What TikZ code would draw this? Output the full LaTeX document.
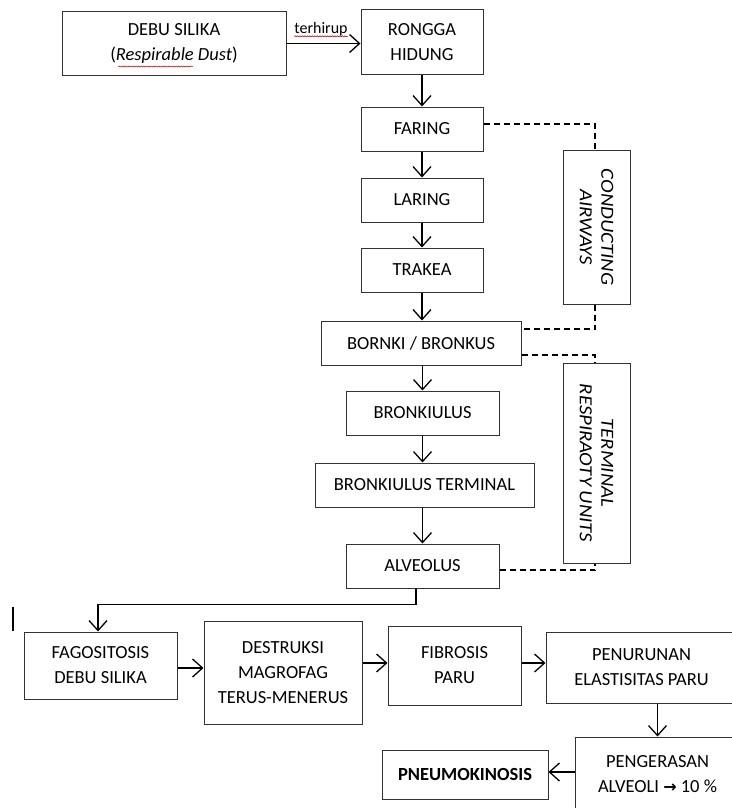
\documentclass[tikz,border=0pt]{standalone}
\usepackage{fontspec}
\setmainfont{Carlito}
\newfontfamily\djv{DejaVu Sans}
\usetikzlibrary{arrows.meta,decorations.pathmorphing,calc}
\begin{document}
\begin{tikzpicture}[x=1pt,y=-1pt,
  box/.style={draw=black!80, line width=1pt, inner sep=0pt, align=center,
    font=\fontsize{18.5}{25}\selectfont, text=black},
  rtxt/.style={rotate=-90, inner sep=0pt, align=center,
    font=\fontsize{18.5}{21.5}\selectfont\itshape, text=black},
  arr/.style={line width=1.6pt, arrows={-Straight Barb[length=10pt,width=18pt,line width=1.3pt]}},
  dsh/.style={line width=1.4pt, dash pattern=on 6pt off 4pt},
  squig/.style={draw=red!75!black, line width=0.5pt, decorate,
    decoration={snake, amplitude=0.6pt, segment length=2.5pt}}]
\useasboundingbox (0,0) rectangle (731,808);

% boxes
\node[box, minimum width=224, minimum height=63] (debu) at (174,43.5)
  {DEBU SILIKA\\(\textit{Respirable} \textit{Dust})};
\node[box, minimum width=122, minimum height=64] (rongga) at (422,42) {RONGGA\\HIDUNG};
\node[box, minimum width=122, minimum height=44] (faring) at (422,129) {FARING};
\node[box, minimum width=122, minimum height=44] (laring) at (422,200) {LARING};
\node[box, minimum width=122, minimum height=44] (trakea) at (422,270) {TRAKEA};
\node[box, minimum width=200, minimum height=44] (bornki) at (421,343) {BORNKI / BRONKUS};
\node[box, minimum width=153, minimum height=44] (bronk) at (422.5,413) {BRONKIULUS};
\node[box, minimum width=219, minimum height=44] (brterm) at (424.5,485) {BRONKIULUS TERMINAL};
\node[box, minimum width=153, minimum height=44] (alveolus) at (422.5,566) {ALVEOLUS};

\node[box, minimum width=67, minimum height=154] (cond) at (596.5,227) {};
\node[rtxt] (condtxt) at (cond.center) {\scalebox{1.12}[1]{CONDUCTING}\\\scalebox{1.12}[1]{AIRWAYS}};
\node[box, minimum width=67, minimum height=200] (term) at (596.5,463) {};
\node[rtxt] (termtxt) at (term.center) {\scalebox{1.12}[1]{TERMINAL}\\\scalebox{1.12}[1]{RESPIRAOTY UNITS}};

\node[box, minimum width=153, minimum height=67] (fago) at (100.5,665.5) {FAGOSITOSIS\\DEBU SILIKA};
\node[box, minimum width=158, minimum height=103] (destruksi) at (283,672.5) {DESTRUKSI\\MAGROFAG\\TERUS-MENERUS};
\node[box, minimum width=133, minimum height=79] (fibrosis) at (454.5,665.5) {FIBROSIS\\PARU};
\node[box, minimum width=191, minimum height=71] (penurunan) at (641.5,667.5) {PENURUNAN\\ELASTISITAS PARU};
\node[box, minimum width=165, minimum height=74] (pengerasan) at (657.5,774) {PENGERASAN\\ALVEOLI {\djv\bfseries\fontsize{16}{25}\selectfont →} 10~\%};
\node[box, minimum width=166, minimum height=49, font=\fontsize{18.5}{25}\selectfont\bfseries] (pneumo) at (465,774.5) {PNEUMOKINOSIS};

% label
\node[inner sep=0pt, anchor=base, font=\fontsize{16}{18}\selectfont, text=black] (terh) at (321,33.3) {terhirup};
\draw[squig] ([yshift=-3pt]terh.base west) -- ([yshift=-3pt]terh.base east);
\draw[squig] (118,66.5) -- (193,66.5);

% stray mark
\draw[line width=2pt] (13,607) -- (13,631);

% arrows
\draw[arr] (debu.east) -- (debu.east -| rongga.west);
\draw[arr] (rongga.south) -- (rongga.south |- faring.north);
\draw[arr] (faring.south) -- (faring.south |- laring.north);
\draw[arr] (laring.south) -- (laring.south |- trakea.north);
\draw[arr] (trakea.south) -- (trakea.south |- bornki.north);
\draw[arr] (bronk.north |- bornki.south) -- (bronk.north);
\draw[arr] (bronk.south) -- (bronk.south |- brterm.north);
\draw[arr] (alveolus.north |- brterm.south) -- (alveolus.north);
\draw[arr] ($(alveolus.south)+(-6.5,0)$) -- ++(0,16) -| ($(fago.north)+(-2.5,0)$);
\draw[arr] ($(fago.east)+(0,2.5)$) -- ($(fago.east -| destruksi.west)+(0,2.5)$);
\draw[arr] ($(destruksi.east |- fibrosis.west)+(0,-2.5)$) -- ($(fibrosis.west)+(0,-2.5)$);
\draw[arr] ($(fibrosis.east)+(0,-2.5)$) -- ($(fibrosis.east -| penurunan.west)+(0,-2.5)$);
\draw[arr] (pengerasan.north |- penurunan.south) -- (pengerasan.north);
\draw[arr] ($(pengerasan.west |- pneumo.east)+(0,-2.5)$) -- ($(pneumo.east)+(0,-2.5)$);

% dashed brackets
\draw[dsh] ($(faring.east)+(0,-5)$) -| ($(cond.north)+(-1.5,0)$);
\draw[dsh] ($(cond.south)+(-1.5,0)$) |- ($(bornki.east)+(0,-14)$);
\draw[dsh] ($(bornki.east)+(0,12)$) -| ($(term.north)+(-1.5,0)$);
\draw[dsh] ($(alveolus.east)+(0,4)$) -| ($(term.south)+(-1.5,0)$);
\end{tikzpicture}
\end{document}
